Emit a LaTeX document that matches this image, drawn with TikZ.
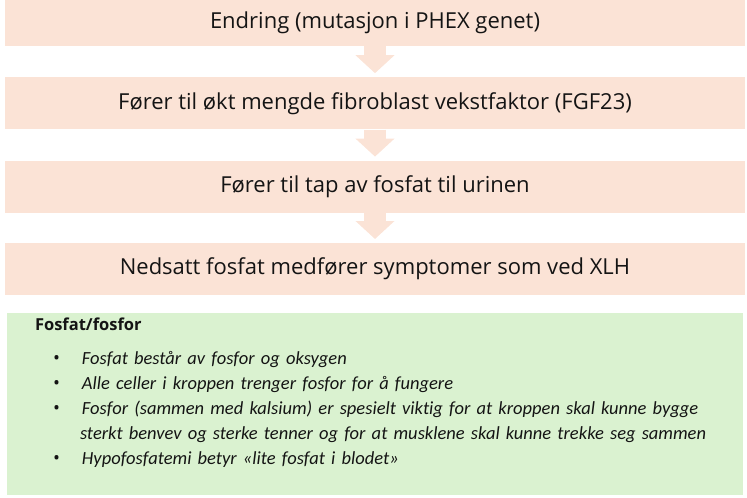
\documentclass[tikz,border=0pt]{standalone}
\usepackage{fontspec}
\setmainfont{Open Sans}
\newfontfamily\listfont{Carlito}[Ligatures=NoCommon]
\usepackage{enumitem}
\usetikzlibrary{arrows.meta, positioning}
\definecolor{peach}{RGB}{251, 227, 214}
\definecolor{mint}{RGB}{218, 242, 208}
\definecolor{ink}{RGB}{20, 20, 20}

\begin{document}
\begin{tikzpicture}[x=1pt, y=1pt,
  stepbox/.style={fill=peach, text=ink, minimum width=740pt,
    minimum height=52pt, inner sep=0pt,
    font=\fontsize{22}{26}\selectfont},
  blockarrow/.style={draw=peach, line width=22pt,
    -{Triangle[length=18pt, width=38pt]}}]

  % Page
  \useasboundingbox (0, 0) rectangle (747, -498);

  % Chain of steps
  \node[stepbox, minimum height=46pt] (change) at (375, -23)
    {Endring (mutasjon i PHEX genet)};
  \node[stepbox, below=31pt of change] (fgf)
    {Fører til økt mengde fibroblast vekstfaktor (FGF23)};
  \node[stepbox, below=31pt of fgf] (loss)
    {Fører til tap av fosfat til urinen};
  \node[stepbox, below=30pt of loss] (symptoms)
    {Nedsatt fosfat medfører symptomer som ved XLH};

  \draw[blockarrow] (change.south) -- ([yshift=4pt]fgf.north);
  \draw[blockarrow] (fgf.south) -- ([yshift=4pt]loss.north);
  \draw[blockarrow] (loss.south) -- ([yshift=4pt]symptoms.north);

  % Facts box
  \node[fill=mint, minimum width=736pt, minimum height=182pt,
        inner sep=0pt, below=17pt of symptoms] (info) {};

  \node[anchor=base west, text=ink, inner sep=0pt,
        font=\bfseries\fontsize{16.5}{19}\selectfont] (title)
    at ([xshift=28pt, yshift=-18pt]info.north west) {Fosfat/fosfor};

  \node[anchor=north west, text width=680pt, inner sep=0pt, align=left,
        text=ink, font=\listfont\itshape\fontsize{18.5}{25}\selectfont] (facts)
    at ([xshift=46pt, yshift=-27pt]info.north west) {%
    \begin{itemize}[leftmargin=27pt, labelsep=22pt, labelwidth=5pt,
        align=left, itemsep=0pt, topsep=0pt, parsep=0pt, partopsep=0pt]
      \item Fosfat består av fosfor og oksygen
      \item Alle celler i kroppen trenger fosfor for å fungere
      \item Fosfor (sammen med kalsium) er spesielt viktig for at kroppen skal kunne bygge\newline
        sterkt benvev og sterke tenner og for at musklene skal kunne trekke seg sammen
      \item Hypofosfatemi betyr «lite fosfat i blodet»
    \end{itemize}};

\end{tikzpicture}
\end{document}
